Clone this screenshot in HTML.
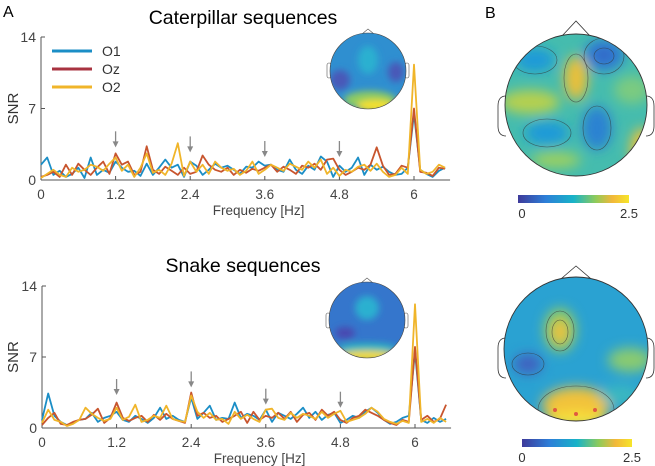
<!DOCTYPE html>
<html><head><meta charset="utf-8"><style>
body{margin:0;background:#fff;}
svg{display:block;font-family:"Liberation Sans",sans-serif;}
</style></head><body>
<svg id="fig" width="655" height="466" viewBox="0 0 655 466">
<defs>
<filter id="bl" x="-50%" y="-50%" width="200%" height="200%"><feGaussianBlur stdDeviation="6"/></filter>
<filter id="bs" x="-50%" y="-50%" width="200%" height="200%"><feGaussianBlur stdDeviation="3.5"/></filter>
<linearGradient id="cb" x1="0" x2="1" y1="0" y2="0">
<stop offset="0" stop-color="#3e3a9a"/><stop offset="0.25" stop-color="#2d7fd8"/><stop offset="0.5" stop-color="#18b3c8"/><stop offset="0.7" stop-color="#8fcb5a"/><stop offset="0.85" stop-color="#f2b83a"/><stop offset="1" stop-color="#f6e52a"/>
</linearGradient>
<clipPath id="c1"><circle cx="576" cy="105" r="71"/></clipPath>
<clipPath id="c2"><circle cx="576" cy="349" r="72"/></clipPath>
<clipPath id="c3"><circle cx="368" cy="71" r="38"/></clipPath>
<clipPath id="c4"><circle cx="367" cy="320" r="38"/></clipPath>
</defs>
<text x="3" y="17" font-size="16">A</text>
<text x="485" y="18" font-size="16">B</text>
<text x="243" y="24" font-size="19.5" text-anchor="middle">Caterpillar sequences</text>
<text x="243" y="272" font-size="19.5" text-anchor="middle">Snake sequences</text>
<g id="charts"></g>

<!-- Big topomap top -->
<g>
<polygon points="562,36 576,21 590,36" fill="#fff" stroke="#333" stroke-width="0.8"/>
<path d="M506,96 q-8,0 -8,10 v20 q0,10 8,10" fill="none" stroke="#333" stroke-width="0.8"/>
<path d="M646,96 q8,0 8,10 v20 q0,10 -8,10" fill="none" stroke="#333" stroke-width="0.8"/>
<g clip-path="url(#c1)">
<rect x="500" y="30" width="152" height="150" fill="#45bcae"/>
<g filter="url(#bl)">
<ellipse cx="535" cy="60" rx="20" ry="12" fill="#1e9ad8"/>
<ellipse cx="604" cy="55" rx="20" ry="16" fill="#2b7ad4"/>
<ellipse cx="604" cy="55" rx="8" ry="6" fill="#3a60c0"/>
<ellipse cx="576" cy="78" rx="12" ry="22" fill="#e9c03a"/>
<ellipse cx="530" cy="102" rx="30" ry="12" fill="#b5d050"/>
<ellipse cx="547" cy="133" rx="22" ry="12" fill="#1e9ad8"/>
<ellipse cx="597" cy="128" rx="15" ry="22" fill="#2a82d2"/>
<ellipse cx="642" cy="150" rx="12" ry="22" fill="#e8c23a"/>
<ellipse cx="556" cy="160" rx="25" ry="8" fill="#9cd060"/>
<ellipse cx="632" cy="90" rx="18" ry="14" fill="#7ccb80"/>
</g>
<g fill="none" stroke="#333" stroke-width="0.6" opacity="0.7">
<ellipse cx="535" cy="60" rx="22" ry="14"/>
<ellipse cx="604" cy="56" rx="20" ry="18"/>
<ellipse cx="604" cy="56" rx="10" ry="8"/>
<ellipse cx="576" cy="78" rx="12" ry="24"/>
<ellipse cx="547" cy="133" rx="24" ry="14"/>
<ellipse cx="597" cy="128" rx="14" ry="22"/>
</g>
</g>
<circle cx="576" cy="105" r="71" fill="none" stroke="#333" stroke-width="0.9"/>
</g>
<rect x="518" y="195" width="111" height="8" fill="url(#cb)"/>
<text x="522" y="218" font-size="13" fill="#333" text-anchor="middle">0</text>
<text x="629" y="218" font-size="13" fill="#333" text-anchor="middle">2.5</text>

<!-- Big topomap bottom -->
<g>
<polygon points="562,278 576,266 590,278" fill="#fff" stroke="#333" stroke-width="0.8"/>
<path d="M506,338 q-8,0 -8,10 v20 q0,10 8,10" fill="none" stroke="#333" stroke-width="0.8"/>
<path d="M646,338 q8,0 8,10 v20 q0,10 -8,10" fill="none" stroke="#333" stroke-width="0.8"/>
<g clip-path="url(#c2)">
<rect x="500" y="275" width="152" height="150" fill="#2aa2d2"/>
<g filter="url(#bl)">
<ellipse cx="560" cy="330" rx="16" ry="22" fill="#8fcc60"/>
<ellipse cx="560" cy="332" rx="8" ry="12" fill="#f0c03a"/>
<ellipse cx="528" cy="364" rx="14" ry="10" fill="#4060c0"/>
<ellipse cx="630" cy="360" rx="22" ry="12" fill="#8acb70"/>
<ellipse cx="576" cy="405" rx="34" ry="18" fill="#f2c23a"/>
<ellipse cx="576" cy="420" rx="30" ry="8" fill="#f8e23a"/>
<ellipse cx="620" cy="395" rx="20" ry="10" fill="#3ab8c0"/>
</g>
<g fill="none" stroke="#333" stroke-width="0.6" opacity="0.7">
<ellipse cx="560" cy="331" rx="14" ry="20"/>
<ellipse cx="560" cy="332" rx="8" ry="12"/>
<ellipse cx="528" cy="364" rx="16" ry="11"/>
<ellipse cx="576" cy="410" rx="38" ry="24"/>
</g>
</g>
<circle cx="576" cy="349" r="72" fill="none" stroke="#333" stroke-width="0.9"/>
<g fill="#e05a40"><circle cx="555" cy="410" r="2"/><circle cx="576" cy="414" r="2"/><circle cx="595" cy="410" r="2"/></g>
</g>
<rect x="522" y="439" width="110" height="8" fill="url(#cb)"/>
<text x="522" y="462" font-size="13" fill="#333" text-anchor="middle">0</text>
<text x="632" y="462" font-size="13" fill="#333" text-anchor="middle">2.5</text>

<!-- Inset topomaps -->
<g>
<polygon points="362,34 368,29 374,34" fill="#fff" stroke="#555" stroke-width="0.6"/>
<rect x="327" y="63" width="4" height="15" rx="2" fill="#fff" stroke="#555" stroke-width="0.6"/>
<rect x="405" y="63" width="4" height="15" rx="2" fill="#fff" stroke="#555" stroke-width="0.6"/>
<g clip-path="url(#c3)">
<rect x="328" y="32" width="80" height="80" fill="#2f8fd0"/>
<g filter="url(#bs)">
<ellipse cx="368" cy="60" rx="10" ry="14" fill="#2cb0d0"/>
<ellipse cx="340" cy="80" rx="10" ry="10" fill="#4a58b8"/>
<ellipse cx="396" cy="72" rx="8" ry="10" fill="#4a58b8"/>
<ellipse cx="370" cy="100" rx="26" ry="9" fill="#8fcc60"/>
<ellipse cx="375" cy="106" rx="18" ry="6" fill="#f6e02c"/>
</g>
</g>
<circle cx="368" cy="71" r="38" fill="none" stroke="#444" stroke-width="0.6"/>
</g>
<g>
<polygon points="361,283 367,278 373,283" fill="#fff" stroke="#555" stroke-width="0.6"/>
<rect x="326" y="313" width="4" height="15" rx="2" fill="#fff" stroke="#555" stroke-width="0.6"/>
<rect x="404" y="313" width="4" height="15" rx="2" fill="#fff" stroke="#555" stroke-width="0.6"/>
<g clip-path="url(#c4)">
<rect x="327" y="281" width="80" height="80" fill="#3576cc"/>
<g filter="url(#bs)">
<ellipse cx="367" cy="308" rx="12" ry="12" fill="#2cb0d0"/>
<ellipse cx="345" cy="333" rx="10" ry="6" fill="#4a48b0"/>
<ellipse cx="367" cy="348" rx="30" ry="5" fill="#2fb8c0"/>
<ellipse cx="367" cy="356" rx="30" ry="5" fill="#f6dc2c"/>
</g>
</g>
<circle cx="367" cy="320" r="38" fill="none" stroke="#444" stroke-width="0.6"/>
</g>
</svg>
<script>
// Shared
const freqStep = 0.1;
const xTicks = [0, 1.2, 2.4, 3.6, 4.8, 6];
const yTicks = [0, 7, 14];
const seriesNames = ["O1", "Oz", "O2"];
const seriesColors = ["#1b8ec6", "#c8552e", "#f0b52a"];
const arrowFreqs = [1.2, 2.4, 3.6, 4.8];

// Caterpillar
const catO1 = [1.5,2.2,0.5,0.9,0.3,0.6,1.2,0.2,2.2,0.5,1.0,0.7,1.8,1.2,0.8,0.9,0.4,1.6,0.5,1.2,2.0,1.2,1.5,0.3,1.8,1.4,0.5,1.0,1.6,1.2,1.4,1.0,0.6,1.3,1.2,1.8,1.4,1.5,1.0,0.8,2.0,1.0,0.6,1.4,1.0,2.3,1.8,0.3,1.4,0.8,1.2,2.2,0.5,1.5,1.0,1.3,0.8,0.5,0.6,1.2,6.5,1.0,0.6,0.3,0.9,1.2];
const catOz = [0.3,0.5,0.8,0.3,1.5,0.5,1.6,1.0,0.5,1.2,1.8,0.6,2.6,1.5,1.8,0.5,0.8,3.3,1.0,0.6,1.3,0.9,0.5,1.2,0.6,0.8,2.4,1.5,1.0,0.8,1.2,0.5,1.0,0.7,1.1,0.9,1.2,1.5,0.8,1.3,1.0,0.6,1.4,1.2,1.6,1.0,2.0,2.1,1.0,0.5,0.8,1.2,1.0,1.5,3.2,1.4,0.5,0.6,1.4,1.2,7.0,0.8,0.7,0.4,1.2,1.1];
const catO2 = [0.2,0.6,1.0,0.5,0.3,1.2,0.8,1.0,1.5,1.3,0.9,1.6,2.2,0.9,1.5,0.3,1.2,2.6,0.7,1.0,0.5,1.6,3.6,0.4,1.8,0.8,1.5,0.6,1.8,1.2,0.9,1.1,0.5,0.9,1.8,0.6,1.0,1.5,1.2,0.9,1.6,1.3,1.0,1.8,1.2,2.0,0.6,1.2,0.4,1.0,0.8,1.3,1.5,0.9,1.6,0.8,0.3,0.5,1.2,0.6,11.3,1.0,0.6,0.8,1.5,1.2];
const catArrowTips = [3.2, 2.7, 2.25, 2.25];

// Snake
const snkO1 = [0.8,3.4,1.2,0.6,0.3,0.5,0.8,0.9,1.5,0.6,1.0,1.2,1.6,0.8,0.6,1.2,0.9,0.5,1.0,2.0,0.9,1.2,0.8,0.6,3.0,0.9,1.5,2.2,0.8,1.0,0.9,2.5,1.0,1.4,1.2,0.8,1.8,0.6,1.5,1.2,0.9,1.4,2.0,1.0,1.6,0.8,1.3,1.5,0.5,0.8,1.2,1.0,1.6,2.0,1.5,0.8,0.4,0.6,1.0,1.2,7.5,0.8,0.5,1.0,0.6,0.9];
const snkOz = [0.3,1.0,1.5,0.4,0.3,0.6,0.8,0.9,1.3,1.9,0.5,1.0,2.5,1.0,0.7,1.0,1.2,0.6,1.3,0.8,1.4,0.9,0.7,0.5,3.5,1.2,1.5,1.0,1.2,0.6,0.9,1.2,1.6,0.5,1.6,0.8,1.2,1.0,1.5,0.9,1.6,0.6,1.3,1.5,0.8,1.8,1.2,1.6,0.8,0.5,1.0,1.2,1.8,1.5,1.2,0.8,0.5,0.3,0.8,0.6,8.0,0.8,1.2,0.6,0.9,2.3];
const snkO2 = [0.5,1.8,0.8,0.6,0.2,0.4,0.8,2.0,1.4,1.0,0.7,0.9,2.0,0.8,1.1,2.3,0.6,0.8,1.2,1.0,2.2,0.9,0.7,0.6,3.2,1.6,1.0,1.5,0.8,0.9,0.4,1.6,0.9,1.3,0.9,0.6,1.8,1.9,1.0,0.8,1.5,1.0,1.4,1.2,0.9,1.6,1.0,1.4,1.7,0.6,0.8,1.0,1.4,2.0,1.6,0.9,0.6,0.4,0.7,0.5,12.2,0.6,0.9,0.5,1.0,0.6];
const snkArrowTips = [3.25, 4.0, 2.3, 2.0];

const NS = "http://www.w3.org/2000/svg";
const root = document.getElementById("charts");
function mk(tag, attrs, parent) {
  const e = document.createElementNS(NS, tag);
  for (const k in attrs) e.setAttribute(k, attrs[k]);
  parent.appendChild(e);
  return e;
}

function drawChart(cfg) {
  const g = mk("g", {}, root);
  
  
  const xS = f => cfg.x0 + (f / 6) * (cfg.x6 - cfg.x0);
  const yS = v => cfg.y0 - (v / 14) * (cfg.y0 - cfg.y14);
  const yAx = mk("line", {x1: xS(0), x2: xS(0), y1: yS(0), y2: yS(14), stroke: "#555", "stroke-width": 1}, g);
  
  
  const xAx = mk("line", {x1: xS(0), x2: xS(6.58), y1: yS(0), y2: yS(0), stroke: "#555", "stroke-width": 1}, g);
  
  
  yTicks.forEach(t => {
    mk("line", {x1: xS(0), x2: xS(0) + 4, y1: yS(t), y2: yS(t), stroke: "#555"}, g);
    const tl = mk("text", {x: xS(0) - 5, y: yS(t) + 5, "font-size": 14, fill: "#444", "text-anchor": "end"}, g);
    tl.textContent = t;
    
    
  });
  xTicks.forEach(t => {
    mk("line", {x1: xS(t), x2: xS(t), y1: yS(0), y2: yS(0) - 4, stroke: "#555"}, g);
    const tl = mk("text", {x: xS(t), y: yS(0) + 19, "font-size": 13.5, fill: "#444", "text-anchor": "middle"}, g);
    tl.textContent = t;
    
    
  });
  const yt = mk("text", {x: 0, y: 0, "font-size": 15, fill: "#333", "text-anchor": "middle", transform: `translate(18 ${yS(7)}) rotate(-90)`}, g);
  yt.textContent = "SNR";
  
  
  const xt = mk("text", {x: xS(3.5), y: yS(0) + 35, "font-size": 13.5, fill: "#444", "text-anchor": "middle"}, g);
  xt.textContent = "Frequency [Hz]";
  
  
  cfg.series.forEach((vals, i) => {
    const pts = vals.map((v, k) => xS(k * freqStep).toFixed(1) + "," + yS(v).toFixed(1)).join(" ");
    const pl = mk("polyline", {points: pts, fill: "none", stroke: seriesColors[i], "stroke-width": 1.8, "stroke-linejoin": "round"}, g);
    
    
  });
  arrowFreqs.forEach((f, i) => {
    const x = xS(f), yt2 = yS(cfg.arrows[i]);
    const a = mk("g", {}, g);
    
    
    mk("line", {x1: x, x2: x, y1: yt2 - 16, y2: yt2 - 4, stroke: "#888", "stroke-width": 1.3}, a);
    mk("polygon", {points: `${x - 3},${yt2 - 6} ${x + 3},${yt2 - 6} ${x},${yt2}`, fill: "#888"}, a);
  });
  if (cfg.legend) {
    seriesNames.forEach((n, i) => {
      const lg = mk("g", {}, g);
      
      
      const ly = 51 + i * 18;
      mk("line", {x1: 52, x2: 92, y1: ly, y2: ly, stroke: i === 1 ? "#a83340" : seriesColors[i], "stroke-width": 3}, lg);
      const t = mk("text", {x: 102, y: ly + 5, "font-size": 14, fill: "#333"}, lg);
      t.textContent = n;
    });
  }
}

drawChart({name: "chart-caterpillar", x0: 41, x6: 414, y0: 180, y14: 37, series: [catO1, catOz, catO2], arrows: catArrowTips, legend: true});
drawChart({name: "chart-snake", x0: 42, x6: 415, y0: 428, y14: 286, series: [snkO1, snkOz, snkO2], arrows: snkArrowTips, legend: false});
</script>
</body></html>
